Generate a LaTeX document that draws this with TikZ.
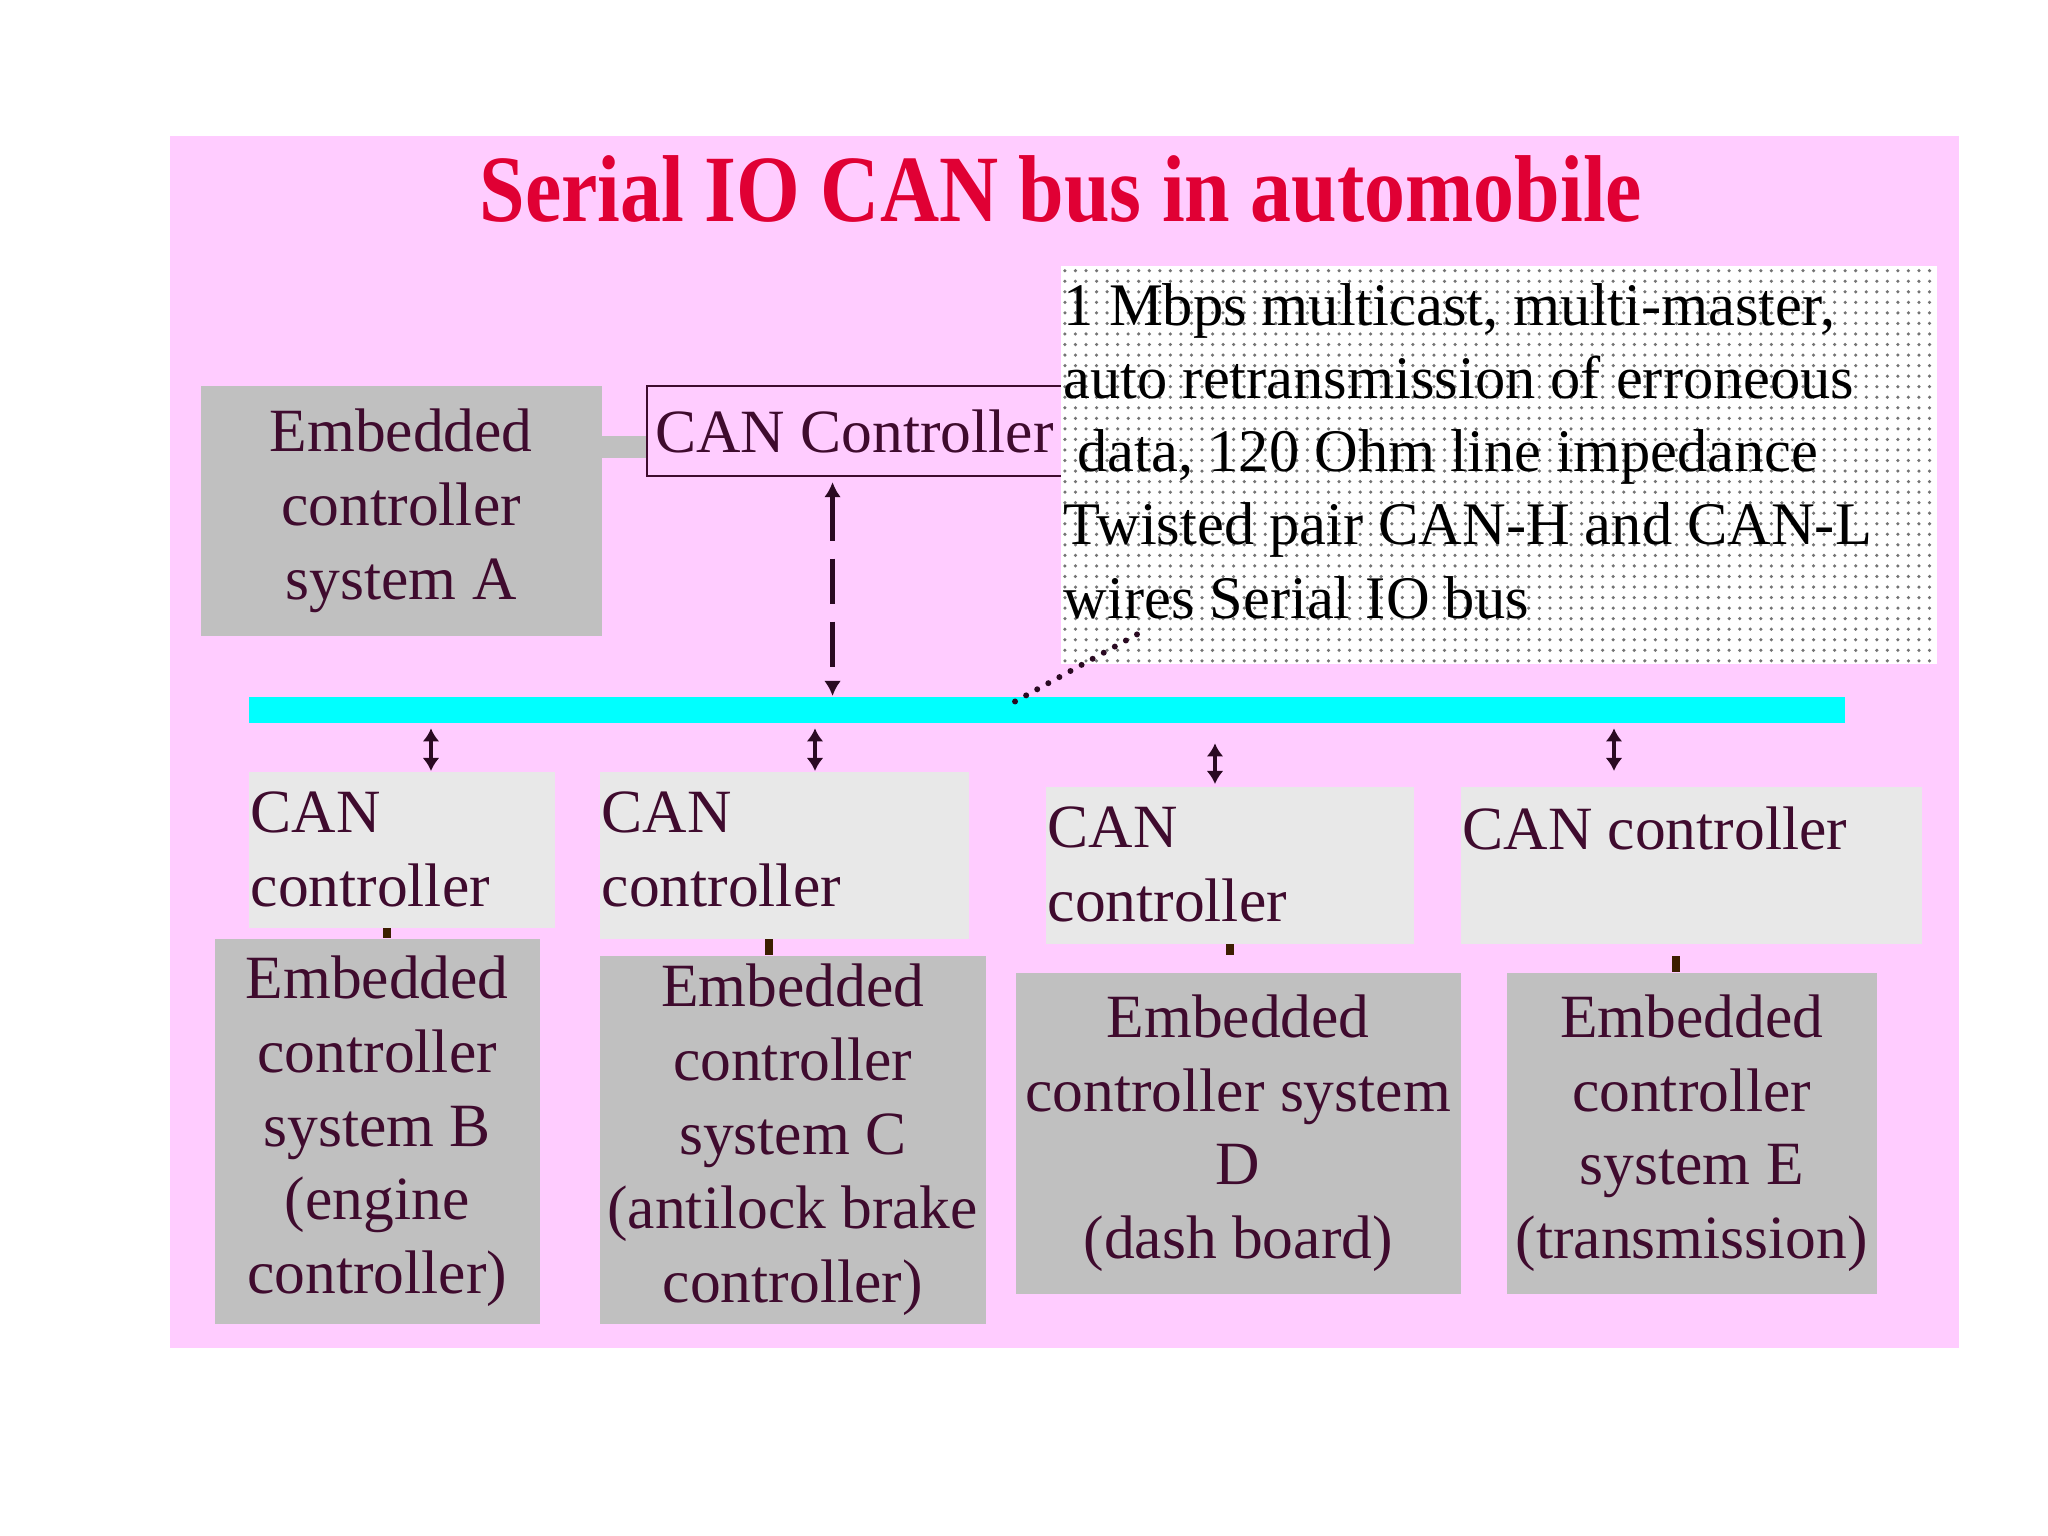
\documentclass[tikz,border=0pt]{standalone}
\usepackage{fontspec}
\setmainfont{Liberation Serif}
\usepackage{graphicx}
\usetikzlibrary{arrows.meta,positioning,calc,patterns}
\definecolor{slide}{HTML}{FFCCFF}
\definecolor{silver}{HTML}{C0C0C0}
\definecolor{speckle}{HTML}{E8E8E8}
\definecolor{aqua}{HTML}{00FFFF}
\definecolor{headred}{HTML}{E00034}
\definecolor{ink}{HTML}{3F0B2E}
\definecolor{arrowink}{HTML}{2A0A22}
\definecolor{stubbrown}{HTML}{3C1E00}

\begin{document}
\begin{tikzpicture}[x=1cm,y=1cm,
  txt/.style={font=\fontsize{17.5}{21}\selectfont,text=ink},
  heading/.style={font=\bfseries\fontsize{23.3}{28}\selectfont,text=headred,anchor=base,inner sep=0pt},
  ecu/.style={txt,fill=silver,align=center,inner sep=0pt,anchor=north west},
  canbox/.style={txt,fill=speckle,inner xsep=0.02cm,inner ysep=0.2cm,anchor=north west},
  memo/.style={font=\fontsize{17.2}{20.8}\selectfont,text=black,fill=white,
    postaction={pattern=dots,pattern color=black!55},
    inner xsep=0.03cm,inner ysep=0.18cm,anchor=north west},
  busbar/.style={fill=aqua,inner sep=0pt,anchor=north west,minimum width=15.96cm,minimum height=0.26cm},
  biarrow/.style={{Latex[length=3.7pt,width=4.8pt]}-{Latex[length=3.7pt,width=4.8pt]},line width=1.3pt,draw=arrowink},
  busarrow/.style={{Latex[length=4.3pt,width=4.8pt]}-{Latex[length=4.3pt,width=4.8pt]},line width=1.4pt,draw=arrowink,dash pattern=on 12.8pt off 5.1pt},
  stub/.style={draw=stubbrown,line width=2.3pt},
  linkbar/.style={draw=silver,line width=0.22cm},
  callout/.style={draw=arrowink,line width=1.7pt,line cap=round,dash pattern=on 0pt off 3.6pt}]
\useasboundingbox (0,0) rectangle (20.48,-15.36);
\fill[slide] (1.70,-1.36) rectangle (19.59,-13.48);
\node[heading] (title) at (10.61,-2.22) {\scalebox{1}[1.16]{Serial IO CAN bus in automobile}};
\node[ecu,minimum width=4.01cm,minimum height=2.50cm] (sysA) at (2.00,-3.85) {Embedded\\controller\\system A};
\node[txt,draw=ink,line width=0.6pt,inner sep=0pt,minimum width=4.15cm,minimum height=0.90cm,anchor=north west] (canTop) at (6.46,-3.85) {CAN Controller};
\node[memo] (memo) at (10.60,-2.65) {\parbox[t][3.62cm][t]{8.70cm}{1 Mbps multicast, multi-master,\\auto retransmission of erroneous\\\hspace*{4pt}data, 120 Ohm line impedance\\Twisted pair CAN-H and CAN-L\\wires Serial IO bus}};
\node[busbar] (bus) at (2.48,-6.96) {};
\node[canbox] (canB) at (2.48,-7.71) {\parbox[t][1.16cm][t]{3.02cm}{CAN\\controller}};
\node[canbox] (canC) at (5.99,-7.71) {\parbox[t][1.27cm][t]{3.65cm}{CAN\\controller}};
\node[canbox] (canD) at (10.45,-7.86) {\parbox[t][1.17cm][t]{3.64cm}{CAN\\controller}};
\node[canbox] (canE) at (14.60,-7.86) {\parbox[t][1.17cm][t]{4.57cm}{CAN controller}};
\node[ecu,minimum width=3.25cm,minimum height=3.85cm] (embB) at (2.14,-9.38) {Embedded\\controller\\system B\\(engine\\controller)};
\node[ecu,minimum width=3.86cm,minimum height=3.68cm] (embC) at (5.99,-9.55) {Embedded\\controller\\system C\\(antilock brake\\controller)};
\node[ecu,minimum width=4.45cm,minimum height=3.21cm] (embD) at (10.15,-9.72) {Embedded\\controller system\\D\\(dash board)};
\node[ecu,minimum width=3.70cm,minimum height=3.21cm] (embE) at (15.06,-9.72) {Embedded\\controller\\system E\\(transmission)};
\draw[linkbar] ($(canTop.west)+(0,-0.16)$) -- ($(canTop.west -| sysA.east)+(0,-0.16)$);
\coordinate (drop) at ($(canTop.south)+(-0.22,-0.05)$);
\draw[busarrow] (drop) -- (drop |- bus.north);
\coordinate (calloutA) at ($(memo.south west)+(0.77,0.30)$);
\coordinate (calloutB) at ($(bus.north west)+(7.57,-0.11)$);
\draw[callout] (calloutA) -- (calloutB);
\draw[biarrow,shorten <=0.05cm] (4.31,0 |- bus.south) -- (4.31,0 |- canB.north);
\draw[biarrow,shorten <=0.05cm] (8.15,0 |- bus.south) -- (8.15,0 |- canC.north);
\draw[biarrow,shorten <=0.20cm,shorten >=0.02cm] (12.15,0 |- bus.south) -- (12.15,0 |- canD.north);
\draw[biarrow,shorten <=0.05cm,shorten >=0.15cm] (16.14,0 |- bus.south) -- (16.14,0 |- canE.north);
\draw[stub] (3.87,0 |- canB.south) -- (3.87,0 |- embB.north);
\draw[stub] (7.69,0 |- canC.south) -- (7.69,0 |- embC.north);
\draw[stub,shorten >=0.17cm] (12.30,0 |- canD.south) -- (12.30,0 |- embD.north);
\draw[stub,shorten <=0.12cm] (16.76,0 |- canE.south) -- (16.76,0 |- embE.north);
\end{tikzpicture}
\end{document}
